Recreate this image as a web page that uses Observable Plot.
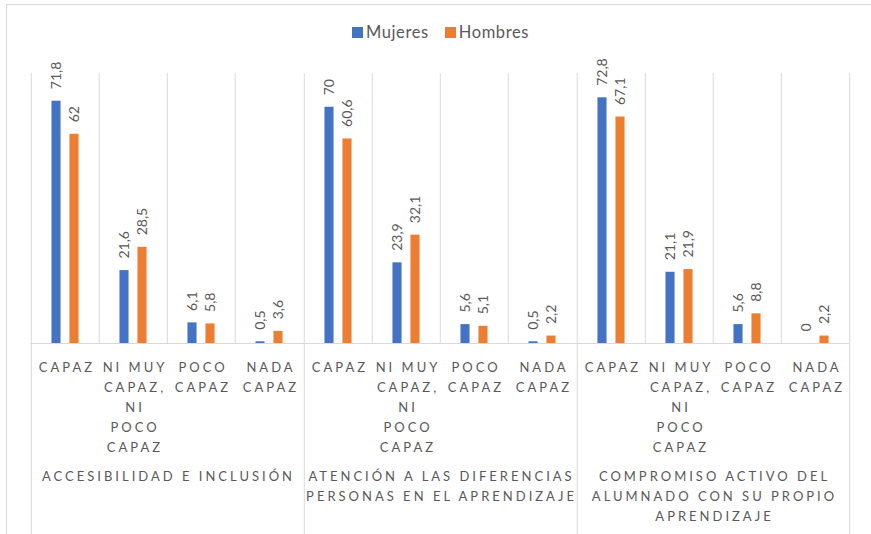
<!DOCTYPE html>
<html>
<head>
<meta charset="utf-8">
<script src="https://cdn.jsdelivr.net/npm/d3@7"></script>
<script src="https://cdn.jsdelivr.net/npm/@observablehq/plot@0.6"></script>
<style>
  html, body { margin: 0; padding: 0; background: #fff; overflow: hidden; }
  #wrap { position: relative; width: 871px; height: 534px; }
  #border { position: absolute; left: 6px; top: 4px; width: 900px; height: 560px; border: 1px solid #d9d9d9; box-sizing: border-box; }
  #chart { position: absolute; left: 0; top: 0; }
  #legend { position: absolute; left: 0; top: 22px; width: 871px; display: flex; justify-content: center; gap: 16px;
            font-family: Lato, sans-serif; font-size: 16.5px; letter-spacing: 0.6px; color: #595959; padding-left: 10px; box-sizing: border-box; }
  #legend .item { display: flex; align-items: center; }
  #legend .sw { width: 11px; height: 11px; margin-right: 3px; }
  .spaced text { letter-spacing: 3px; }
</style>
</head>
<body>
<div id="wrap">
  <div id="border"></div>
  <div id="chart"></div>
  <div id="legend"></div>
</div>
<script>
const groups = [
  "ACCESIBILIDAD E INCLUSIÓN",
  "ATENCIÓN A LAS DIFERENCIAS\nPERSONAS EN EL APRENDIZAJE",
  "COMPROMISO ACTIVO DEL\nALUMNADO CON SU PROPIO\nAPRENDIZAJE"
];
const categories = ["CAPAZ", "NI MUY CAPAZ, NI POCO CAPAZ", "POCO CAPAZ", "NADA CAPAZ"];
const categoryLabels = ["CAPAZ", "NI MUY\nCAPAZ,\nNI\nPOCO\nCAPAZ", "POCO\nCAPAZ", "NADA\nCAPAZ"];
const series = ["Mujeres", "Hombres"];
const colors = ["#4472C4", "#ED7D31"];
const mujeres = [71.8, 21.6, 6.1, 0.5, 70, 23.9, 5.6, 0.5, 72.8, 21.1, 5.6, 0];
const hombres = [62, 28.5, 5.8, 3.6, 60.6, 32.1, 5.1, 2.2, 67.1, 21.9, 8.8, 2.2];

const rows = [];
groups.forEach((g, gi) => categories.forEach((c, ci) => {
  const i = gi * categories.length + ci;
  rows.push({group: g, cat: c, Mujeres: mujeres[i], Hombres: hombres[i]});
}));

const W = 871, H = 534, mL = 29, mR = 21, mT = 73, mB = 191;
const bw = (W - mL - mR) / (groups.length * categories.length);
const barW = 9.5, off = 9;
const inset = (bw - barW) / 2;
const grid = "#d9d9d9", txt = "#595959";
const fmt = v => String(v).replace(".", ",");

const plot = Plot.plot({
  width: W, height: H,
  marginLeft: mL, marginRight: mR, marginTop: mT, marginBottom: mB,
  fx: {domain: groups, padding: 0, axis: null},
  x: {domain: categories, padding: 0, axis: null},
  y: {domain: [0, 80], axis: null},
  style: {background: "transparent", fontFamily: "Lato, sans-serif", color: txt},
  marks: [
    Plot.ruleX(categories.slice(1), {x: d => d, dx: -bw / 2, stroke: grid}),
    Plot.ruleX(groups, {fx: d => d, x: () => categories[0], dx: -bw / 2, stroke: grid, insetBottom: -mB}),
    Plot.ruleX([groups[groups.length - 1]], {fx: d => d, x: () => categories[categories.length - 1], dx: bw / 2, stroke: grid, insetBottom: -mB}),
    Plot.ruleY([0], {stroke: grid}),
    Plot.barY(rows, {fx: "group", x: "cat", y: "Mujeres", dx: -off, insetLeft: inset, insetRight: inset, fill: colors[0]}),
    Plot.barY(rows, {fx: "group", x: "cat", y: "Hombres", dx: off, insetLeft: inset, insetRight: inset, fill: colors[1]}),
    Plot.text(rows, {fx: "group", x: "cat", y: "Mujeres", text: d => fmt(d.Mujeres), rotate: -90, textAnchor: "start", dx: -off, dy: -12, fontSize: 14, fill: txt}),
    Plot.text(rows, {fx: "group", x: "cat", y: "Hombres", text: d => fmt(d.Hombres), rotate: -90, textAnchor: "start", dx: off, dy: -12, fontSize: 14, fill: txt}),
    Plot.text(categories, {x: d => d, text: (d, i) => categoryLabels[i], frameAnchor: "bottom", lineAnchor: "top", dy: 14, dx: 1.5, lineHeight: 20 / 13, fontSize: 13, fill: txt, className: "spaced"}),
    Plot.text(groups, {fx: d => d, text: d => d, frameAnchor: "bottom", lineAnchor: "top", dy: 123, dx: 1.5, lineHeight: 20 / 13, fontSize: 13, fill: txt, className: "spaced"})
  ]
});
document.getElementById("chart").appendChild(plot);

const legend = d3.select("#legend");
series.forEach((s, i) => {
  const item = legend.append("div").attr("class", "item");
  item.append("div").attr("class", "sw").style("background", colors[i]);
  item.append("span").text(s);
});
</script>
</body>
</html>
